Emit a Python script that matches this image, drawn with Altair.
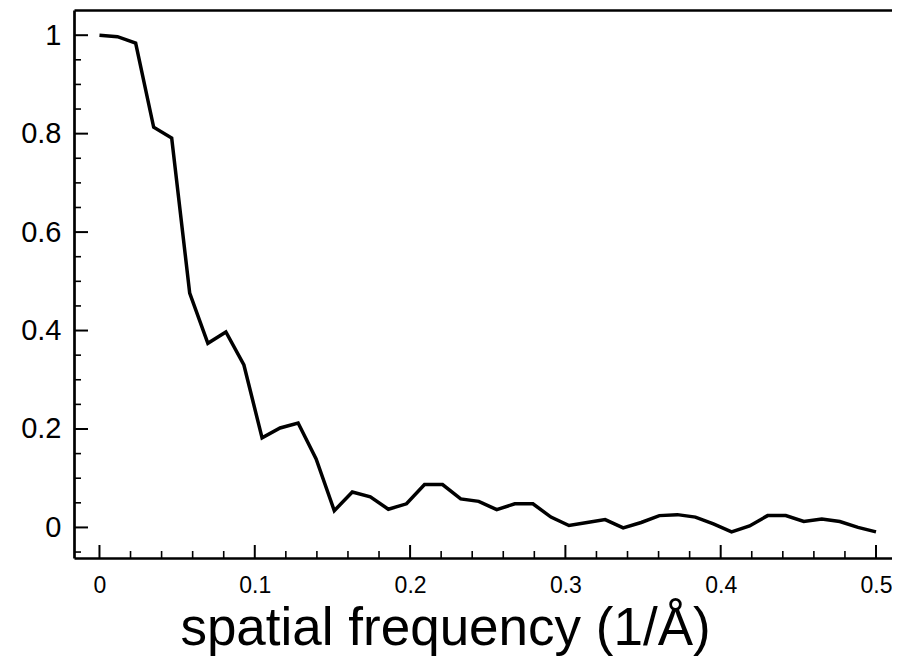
import altair as alt
import pandas as pd

# spatial frequency (1/Å)
freq = [0.0, 0.0116, 0.0233, 0.0349, 0.0465, 0.0581, 0.0698, 0.0814, 0.0930, 0.1047,
        0.1163, 0.1279, 0.1395, 0.1512, 0.1628, 0.1744, 0.1860, 0.1977, 0.2093, 0.2209,
        0.2326, 0.2442, 0.2558, 0.2674, 0.2791, 0.2907, 0.3023, 0.3140, 0.3256, 0.3372,
        0.3488, 0.3605, 0.3721, 0.3837, 0.3953, 0.4070, 0.4186, 0.4302, 0.4419, 0.4535,
        0.4651, 0.4767, 0.4884, 0.5]
# correlation values
corr = [1.000, 0.997, 0.984, 0.813, 0.791, 0.476, 0.374, 0.397, 0.330, 0.182,
        0.202, 0.212, 0.139, 0.034, 0.072, 0.062, 0.037, 0.048, 0.087, 0.087,
        0.058, 0.053, 0.036, 0.048, 0.048, 0.021, 0.004, 0.010, 0.016, -0.001,
        0.010, 0.024, 0.026, 0.021, 0.007, -0.009, 0.003, 0.024, 0.024, 0.012,
        0.017, 0.012, 0.000, -0.009]

x_major = [0.0, 0.1, 0.2, 0.3, 0.4, 0.5]
x_minor = [0.02, 0.04, 0.06, 0.08, 0.12, 0.14, 0.16, 0.18, 0.22, 0.24, 0.26, 0.28,
           0.32, 0.34, 0.36, 0.38, 0.42, 0.44, 0.46, 0.48]
y_major = [0.0, 0.2, 0.4, 0.6, 0.8, 1.0]
y_minor = [-0.05, 0.05, 0.1, 0.15, 0.25, 0.3, 0.35, 0.45, 0.5, 0.55, 0.65, 0.7,
           0.75, 0.85, 0.9, 0.95]

W, H = 818, 548
FONT = "Liberation Sans"
xscale = alt.Scale(domain=[-0.0164, 0.5103], nice=False, zero=False)
yscale = alt.Scale(domain=[-0.0621, 1.0512], nice=False, zero=False)

line_df = pd.DataFrame({"x": freq, "y": corr})

yaxis = alt.Axis(orient="left", values=y_major, format="~g", grid=False, ticks=False, tickSize=0,
                 domain=True, domainColor="black", domainWidth=2.7,
                 labelFont=FONT, labelFontSize=29, labelColor="black", labelPadding=13,
                 labelBaseline="middle", title=None)

line = alt.Chart(line_df).mark_line(color="black", strokeWidth=3.5).encode(
    x=alt.X("x:Q", scale=xscale,
            axis=alt.Axis(orient="bottom", values=x_major, format="~g", grid=False,
                          ticks=False, tickSize=0,
                          domainColor="black", domainWidth=2.7,
                          labelFont=FONT, labelFontSize=23, labelColor="black", labelPadding=16,
                          title="spatial frequency (1/Å)", titleFont=FONT, titleFontSize=53,
                          titleFontWeight="normal", titleColor="black",
                          titleBaseline="alphabetic", titleAlign="center",
                          titleX=371, titleY=86)),
    y=alt.Y("y:Q", scale=yscale, axis=yaxis),
)

xmaj = alt.Chart(pd.DataFrame({"x": x_major})).mark_rule(color="black", strokeWidth=2).encode(
    x=alt.X("x:Q", scale=xscale,
            axis=alt.Axis(orient="top", labels=False, ticks=False, tickSize=0, grid=False,
                          domainColor="black", domainWidth=2.7, title=None)),
    y=alt.value(H), y2=alt.value(H - 13),
)
xmin = alt.Chart(pd.DataFrame({"x": x_minor})).mark_rule(color="black", strokeWidth=1.6).encode(
    x=alt.X("x:Q", scale=xscale, axis=None),
    y=alt.value(H), y2=alt.value(H - 7),
)
ymaj = alt.Chart(pd.DataFrame({"y": y_major})).mark_rule(color="black", strokeWidth=2).encode(
    y=alt.Y("y:Q", scale=yscale, axis=None),
    x=alt.value(0), x2=alt.value(14),
)
ymin = alt.Chart(pd.DataFrame({"y": y_minor})).mark_rule(color="black", strokeWidth=1.6).encode(
    y=alt.Y("y:Q", scale=yscale, axis=None),
    x=alt.value(0), x2=alt.value(7),
)

chart = alt.layer(line, xmaj, xmin, ymaj, ymin).resolve_axis(
    x="independent", y="independent"
).properties(
    width=W, height=H,
    autosize=alt.AutoSizeParams(type="none"),
    padding={"left": 66, "top": 2, "right": 0, "bottom": 98},
    background="white",
).configure_view(stroke=None)

chart.save("out.html", embed_options={"renderer": "svg", "actions": False})
